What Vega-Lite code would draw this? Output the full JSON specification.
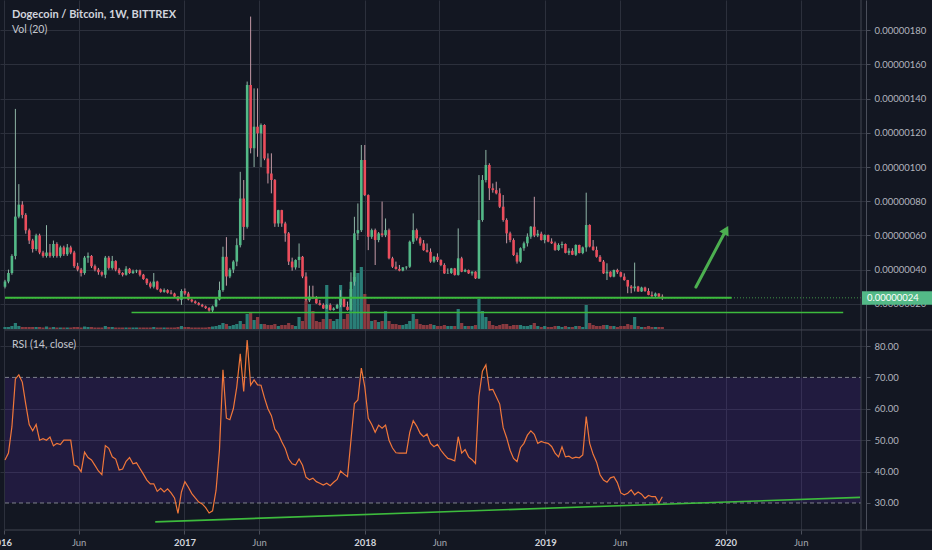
{
"$schema":"https://vega.github.io/schema/vega-lite/v6.json",
"width":866,"height":530,
"autosize":{"type":"none"},
"padding":{"left":0,"top":0,"right":66,"bottom":20},
"background":"#131722",
"config":{"view":{"stroke":null},"font":"Lato"},
"datasets":{"candles":[
{"d":"2016-01-04","o":30,"h":34,"l":29,"c":33,"vol":2,"r":43.7},
{"d":"2016-01-11","o":33,"h":40,"l":32,"c":38,"vol":2,"r":45.9},
{"d":"2016-01-18","o":38,"h":49,"l":37,"c":48,"vol":3,"r":54.3},
{"d":"2016-01-25","o":48,"h":134,"l":46,"c":71,"vol":6,"r":69.5},
{"d":"2016-02-01","o":71,"h":90,"l":70,"c":78,"vol":3,"r":70.8},
{"d":"2016-02-08","o":78,"h":80,"l":70,"c":72,"vol":2,"r":68.5},
{"d":"2016-02-15","o":72,"h":73,"l":61,"c":63,"vol":2,"r":61.5},
{"d":"2016-02-22","o":63,"h":64,"l":55,"c":57,"vol":2,"r":55},
{"d":"2016-02-29","o":57,"h":58,"l":50,"c":52,"vol":2,"r":53},
{"d":"2016-03-07","o":52,"h":61,"l":51,"c":60,"vol":2,"r":55},
{"d":"2016-03-14","o":60,"h":61,"l":49,"c":50,"vol":2,"r":50},
{"d":"2016-03-21","o":50,"h":51,"l":47,"c":48,"vol":1.5,"r":50.5},
{"d":"2016-03-28","o":48,"h":66,"l":47,"c":50,"vol":2.5,"r":50},
{"d":"2016-04-04","o":50,"h":55,"l":47,"c":48,"vol":1.5,"r":51},
{"d":"2016-04-11","o":48,"h":57,"l":47,"c":55,"vol":2,"r":48.2},
{"d":"2016-04-18","o":55,"h":56,"l":47,"c":48,"vol":1.5,"r":49},
{"d":"2016-04-25","o":48,"h":54,"l":47,"c":53,"vol":1.5,"r":48.6},
{"d":"2016-05-02","o":53,"h":54,"l":48,"c":49,"vol":1.5,"r":50},
{"d":"2016-05-09","o":49,"h":55,"l":48,"c":53,"vol":1.5,"r":50},
{"d":"2016-05-16","o":53,"h":54,"l":49,"c":50,"vol":1.5,"r":50},
{"d":"2016-05-23","o":50,"h":51,"l":41,"c":42,"vol":2,"r":42.1},
{"d":"2016-05-30","o":42,"h":44,"l":39,"c":40,"vol":2,"r":41.6},
{"d":"2016-06-06","o":40,"h":41,"l":36,"c":38,"vol":1.5,"r":40},
{"d":"2016-06-13","o":38,"h":48,"l":37,"c":47,"vol":2.5,"r":46.2},
{"d":"2016-06-20","o":47,"h":50,"l":44,"c":48,"vol":2,"r":44.5},
{"d":"2016-06-27","o":48,"h":48.5,"l":41,"c":42,"vol":2,"r":43.7},
{"d":"2016-07-04","o":42,"h":43,"l":39,"c":40,"vol":1.5,"r":42},
{"d":"2016-07-11","o":40,"h":41,"l":37,"c":38.5,"vol":1.5,"r":40.2},
{"d":"2016-07-18","o":38.5,"h":39,"l":36,"c":37,"vol":1.5,"r":39},
{"d":"2016-07-25","o":37,"h":48,"l":35,"c":47,"vol":3,"r":48.3},
{"d":"2016-08-01","o":47,"h":48,"l":40,"c":41,"vol":2,"r":47.4},
{"d":"2016-08-08","o":41,"h":48,"l":40,"c":45,"vol":2,"r":44.7},
{"d":"2016-08-15","o":45,"h":45.5,"l":39,"c":40,"vol":1.5,"r":44},
{"d":"2016-08-22","o":40,"h":41,"l":37,"c":38,"vol":1.5,"r":40.5},
{"d":"2016-08-29","o":38,"h":38.5,"l":36,"c":37,"vol":1.5,"r":40.8},
{"d":"2016-09-05","o":37,"h":42,"l":36.5,"c":40.5,"vol":1.5,"r":43.3},
{"d":"2016-09-12","o":40.5,"h":41,"l":37.5,"c":38,"vol":1.5,"r":44.5},
{"d":"2016-09-19","o":38,"h":40,"l":37.5,"c":39,"vol":1.5,"r":42.5},
{"d":"2016-09-26","o":39,"h":40,"l":38,"c":39.5,"vol":1.5,"r":42.8},
{"d":"2016-10-03","o":39.5,"h":40,"l":36,"c":37,"vol":1.5,"r":41},
{"d":"2016-10-10","o":37,"h":37.5,"l":34,"c":34.5,"vol":1.5,"r":39.2},
{"d":"2016-10-17","o":34.5,"h":35,"l":31,"c":32,"vol":1.5,"r":37.3},
{"d":"2016-10-24","o":32,"h":33,"l":29,"c":30,"vol":1.5,"r":36.1},
{"d":"2016-10-31","o":30,"h":38,"l":29,"c":33,"vol":2,"r":36.1},
{"d":"2016-11-07","o":33,"h":33.5,"l":28,"c":28.5,"vol":1.5,"r":33.7},
{"d":"2016-11-14","o":28.5,"h":29,"l":26.5,"c":27,"vol":1.5,"r":34.7},
{"d":"2016-11-21","o":27,"h":29,"l":26.5,"c":28,"vol":1.5,"r":33.5},
{"d":"2016-11-28","o":28,"h":28.5,"l":26,"c":26.5,"vol":1.5,"r":34.5},
{"d":"2016-12-05","o":26.5,"h":28,"l":25.5,"c":26,"vol":1.5,"r":33.2},
{"d":"2016-12-12","o":26,"h":26.5,"l":23.5,"c":24.2,"vol":1.5,"r":31.6},
{"d":"2016-12-19","o":24.2,"h":24.5,"l":21.5,"c":22.3,"vol":2,"r":26.7},
{"d":"2016-12-26","o":22.3,"h":28.5,"l":19.4,"c":27.5,"vol":3,"r":33.5},
{"d":"2017-01-02","o":27.5,"h":29,"l":25,"c":26,"vol":2,"r":36.8},
{"d":"2017-01-09","o":26,"h":27,"l":22,"c":22.5,"vol":2,"r":35},
{"d":"2017-01-16","o":22.5,"h":23,"l":20.8,"c":21.4,"vol":1.5,"r":33},
{"d":"2017-01-23","o":21.4,"h":22,"l":20,"c":20.4,"vol":1.5,"r":31.6},
{"d":"2017-01-30","o":20.4,"h":21,"l":19,"c":19.4,"vol":1.5,"r":30.3},
{"d":"2017-02-06","o":19.4,"h":20,"l":18,"c":18.5,"vol":1.5,"r":29.7},
{"d":"2017-02-13","o":18.5,"h":19,"l":17,"c":17.5,"vol":1.5,"r":28.5},
{"d":"2017-02-20","o":17.5,"h":18,"l":15.4,"c":16.1,"vol":2,"r":26.8},
{"d":"2017-02-27","o":16.1,"h":19,"l":14.8,"c":18.5,"vol":2.5,"r":27.5},
{"d":"2017-03-06","o":18.5,"h":24,"l":18,"c":22.5,"vol":3,"r":34},
{"d":"2017-03-13","o":22.5,"h":33,"l":22,"c":28,"vol":4,"r":47},
{"d":"2017-03-20","o":28,"h":53.4,"l":27,"c":47.5,"vol":6,"r":72.4},
{"d":"2017-03-27","o":47.5,"h":59,"l":30.6,"c":36,"vol":5,"r":57},
{"d":"2017-04-03","o":36,"h":41,"l":35,"c":40,"vol":3,"r":56.5},
{"d":"2017-04-10","o":40,"h":45.5,"l":38,"c":44.7,"vol":4,"r":60},
{"d":"2017-04-17","o":44.7,"h":58.3,"l":42,"c":54.3,"vol":5,"r":67},
{"d":"2017-04-24","o":54.3,"h":97.2,"l":53,"c":81.6,"vol":8,"r":77.5},
{"d":"2017-05-01","o":81.6,"h":92.4,"l":57.3,"c":65,"vol":5,"r":65.5},
{"d":"2017-05-08","o":65,"h":150,"l":64,"c":148,"vol":15,"r":81.9},
{"d":"2017-05-15","o":148,"h":188,"l":108,"c":111,"vol":16,"r":67.5},
{"d":"2017-05-22","o":111,"h":146,"l":100,"c":123.6,"vol":9,"r":69.2},
{"d":"2017-05-29","o":123.6,"h":146,"l":106,"c":119.7,"vol":12,"r":67.6},
{"d":"2017-06-05","o":119.7,"h":125.5,"l":100,"c":124.6,"vol":5,"r":67.5},
{"d":"2017-06-12","o":124.6,"h":125,"l":104,"c":105,"vol":5,"r":63.5},
{"d":"2017-06-19","o":105,"h":108,"l":90.4,"c":96.2,"vol":4,"r":60},
{"d":"2017-06-26","o":96.2,"h":108,"l":84.6,"c":92.4,"vol":4,"r":57.8},
{"d":"2017-07-03","o":92.4,"h":93,"l":65,"c":67,"vol":5,"r":53.5},
{"d":"2017-07-10","o":67,"h":75,"l":65,"c":74.8,"vol":3,"r":52},
{"d":"2017-07-17","o":74.8,"h":75,"l":65,"c":67,"vol":4,"r":49.5},
{"d":"2017-07-24","o":67,"h":68,"l":56.3,"c":61.2,"vol":4,"r":47.4},
{"d":"2017-07-31","o":61.2,"h":62,"l":42.7,"c":44.7,"vol":6,"r":44},
{"d":"2017-08-07","o":44.7,"h":47,"l":39.4,"c":41.3,"vol":4,"r":42.5},
{"d":"2017-08-14","o":41.3,"h":46,"l":40,"c":45.6,"vol":3,"r":42.1},
{"d":"2017-08-21","o":45.6,"h":55.3,"l":41,"c":47.5,"vol":12,"r":44},
{"d":"2017-08-28","o":47.5,"h":48,"l":35,"c":36,"vol":8,"r":42},
{"d":"2017-09-04","o":36,"h":38.4,"l":21.5,"c":22,"vol":28,"r":38.2},
{"d":"2017-09-11","o":22,"h":30.6,"l":21,"c":24.2,"vol":25,"r":37.4},
{"d":"2017-09-18","o":24.2,"h":30.6,"l":23,"c":23.2,"vol":18,"r":37.9},
{"d":"2017-09-25","o":23.2,"h":24.5,"l":20,"c":20.3,"vol":8,"r":36.8},
{"d":"2017-10-02","o":20.3,"h":22.2,"l":19,"c":19.3,"vol":7,"r":36.3},
{"d":"2017-10-09","o":19.3,"h":20.3,"l":17,"c":17.3,"vol":10,"r":35.7},
{"d":"2017-10-16","o":17.3,"h":19.8,"l":17,"c":19.3,"vol":44,"r":36.3},
{"d":"2017-10-23","o":19.3,"h":20.3,"l":16,"c":16.4,"vol":10,"r":35.5},
{"d":"2017-10-30","o":16.4,"h":18,"l":16,"c":17.3,"vol":8,"r":36.6},
{"d":"2017-11-06","o":17.3,"h":20,"l":17,"c":19.3,"vol":10,"r":37.5},
{"d":"2017-11-13","o":19.3,"h":28,"l":18,"c":23.2,"vol":44,"r":40.2},
{"d":"2017-11-20","o":23.2,"h":23.5,"l":18,"c":18.3,"vol":10,"r":39.2},
{"d":"2017-11-27","o":18.3,"h":21.3,"l":16,"c":16.4,"vol":15,"r":38.4},
{"d":"2017-12-04","o":16.4,"h":38.4,"l":16,"c":32.9,"vol":40,"r":50},
{"d":"2017-12-11","o":32.9,"h":70.9,"l":30.6,"c":61.2,"vol":52,"r":61.7},
{"d":"2017-12-18","o":61.2,"h":78.7,"l":57.3,"c":63.1,"vol":56,"r":62.8},
{"d":"2017-12-25","o":63.1,"h":112.9,"l":62,"c":104.1,"vol":62,"r":73},
{"d":"2018-01-01","o":104.1,"h":112.9,"l":83,"c":83.6,"vol":35,"r":67},
{"d":"2018-01-08","o":83.6,"h":84,"l":51.4,"c":59.2,"vol":25,"r":57},
{"d":"2018-01-15","o":59.2,"h":64,"l":58,"c":63.1,"vol":8,"r":55},
{"d":"2018-01-22","o":63.1,"h":64,"l":42.7,"c":57.3,"vol":9,"r":52.5},
{"d":"2018-01-29","o":57.3,"h":62,"l":56,"c":61.2,"vol":7,"r":54.8},
{"d":"2018-02-05","o":61.2,"h":79.8,"l":59,"c":60.2,"vol":8,"r":53.8},
{"d":"2018-02-12","o":60.2,"h":69.9,"l":59,"c":63.1,"vol":18,"r":54.8},
{"d":"2018-02-19","o":63.1,"h":64,"l":46,"c":46.6,"vol":8,"r":50},
{"d":"2018-02-26","o":46.6,"h":47.5,"l":41,"c":41.7,"vol":5,"r":47.5},
{"d":"2018-03-05","o":41.7,"h":44.7,"l":40,"c":40.4,"vol":5,"r":46},
{"d":"2018-03-12","o":40.4,"h":42.7,"l":39,"c":39.4,"vol":4,"r":45.9},
{"d":"2018-03-19","o":39.4,"h":41.5,"l":39,"c":41.3,"vol":4,"r":45.9},
{"d":"2018-03-26","o":41.3,"h":42,"l":40,"c":41.7,"vol":5,"r":45.9},
{"d":"2018-04-02","o":41.7,"h":57,"l":41,"c":56.3,"vol":8,"r":52.5},
{"d":"2018-04-09","o":56.3,"h":72.9,"l":55,"c":63.1,"vol":15,"r":56.2},
{"d":"2018-04-16","o":63.1,"h":64,"l":57,"c":58.3,"vol":10,"r":54.5},
{"d":"2018-04-23","o":58.3,"h":59.2,"l":54,"c":55.3,"vol":5,"r":52.2},
{"d":"2018-04-30","o":55.3,"h":57.3,"l":51,"c":51.4,"vol":4,"r":51.1},
{"d":"2018-05-07","o":51.4,"h":55.3,"l":50,"c":50.4,"vol":4,"r":52},
{"d":"2018-05-14","o":50.4,"h":52.4,"l":44,"c":44.7,"vol":5,"r":49},
{"d":"2018-05-21","o":44.7,"h":48,"l":44,"c":47.5,"vol":4,"r":47.9},
{"d":"2018-05-28","o":47.5,"h":49.5,"l":44.5,"c":45.6,"vol":3,"r":48.7},
{"d":"2018-06-04","o":45.6,"h":46,"l":42,"c":42.7,"vol":3,"r":46.8},
{"d":"2018-06-11","o":42.7,"h":43.7,"l":37.5,"c":37.8,"vol":4,"r":45.4},
{"d":"2018-06-18","o":37.8,"h":40.7,"l":37.5,"c":38,"vol":3,"r":44.2},
{"d":"2018-06-25","o":38,"h":41,"l":37.5,"c":40.7,"vol":3,"r":43.9},
{"d":"2018-07-02","o":40.7,"h":41,"l":36.5,"c":36.9,"vol":3,"r":43.4},
{"d":"2018-07-09","o":36.9,"h":64.1,"l":36.5,"c":46.6,"vol":20,"r":51.1},
{"d":"2018-07-16","o":46.6,"h":47.5,"l":38.5,"c":38.8,"vol":6,"r":45.9},
{"d":"2018-07-23","o":38.8,"h":40.5,"l":38.5,"c":39.8,"vol":3,"r":47},
{"d":"2018-07-30","o":39.8,"h":40,"l":37.5,"c":37.8,"vol":3,"r":44.7},
{"d":"2018-08-06","o":37.8,"h":39,"l":36.5,"c":38.8,"vol":3,"r":43.8},
{"d":"2018-08-13","o":38.8,"h":39,"l":34.5,"c":34.9,"vol":4,"r":42.6},
{"d":"2018-08-20","o":34.9,"h":95.3,"l":34.5,"c":69,"vol":30,"r":64},
{"d":"2018-08-27","o":69,"h":95.3,"l":68,"c":92.4,"vol":18,"r":72},
{"d":"2018-09-03","o":92.4,"h":110,"l":91,"c":101.2,"vol":12,"r":74},
{"d":"2018-09-10","o":101.2,"h":102.2,"l":80.7,"c":87.6,"vol":8,"r":66},
{"d":"2018-09-17","o":87.6,"h":90.4,"l":85,"c":86.5,"vol":4,"r":66.2},
{"d":"2018-09-24","o":86.5,"h":91.4,"l":84,"c":84.6,"vol":3,"r":63.8},
{"d":"2018-10-01","o":84.6,"h":87.6,"l":76,"c":76.8,"vol":4,"r":61.5},
{"d":"2018-10-08","o":76.8,"h":83.6,"l":68,"c":69,"vol":5,"r":54},
{"d":"2018-10-15","o":69,"h":70,"l":55.4,"c":61.2,"vol":5,"r":50.8},
{"d":"2018-10-22","o":61.2,"h":62.2,"l":56,"c":57.3,"vol":3,"r":46.8},
{"d":"2018-10-29","o":57.3,"h":58.3,"l":48,"c":48.5,"vol":4,"r":44.2},
{"d":"2018-11-05","o":48.5,"h":50,"l":43.5,"c":44.7,"vol":4,"r":43.2},
{"d":"2018-11-12","o":44.7,"h":53,"l":44,"c":52.5,"vol":4,"r":47.6},
{"d":"2018-11-19","o":52.5,"h":56.4,"l":51,"c":55.4,"vol":3,"r":49},
{"d":"2018-11-26","o":55.4,"h":61.2,"l":53.5,"c":59.3,"vol":3,"r":51.6},
{"d":"2018-12-03","o":59.3,"h":65.5,"l":58,"c":65.1,"vol":4,"r":53},
{"d":"2018-12-10","o":65.1,"h":82.6,"l":59,"c":60,"vol":6,"r":51.9},
{"d":"2018-12-17","o":60,"h":63.2,"l":59,"c":61,"vol":3,"r":49},
{"d":"2018-12-24","o":61,"h":62.2,"l":57,"c":57.3,"vol":2,"r":49.6},
{"d":"2018-12-31","o":57.3,"h":60.6,"l":55.4,"c":60.2,"vol":3,"r":49.2},
{"d":"2019-01-07","o":60.2,"h":60.5,"l":56,"c":56.4,"vol":2,"r":49},
{"d":"2019-01-14","o":56.4,"h":58.3,"l":55,"c":55.4,"vol":2,"r":48},
{"d":"2019-01-21","o":55.4,"h":56.4,"l":51,"c":51.5,"vol":3,"r":45.9},
{"d":"2019-01-28","o":51.5,"h":55.4,"l":51,"c":54.4,"vol":3,"r":44.7},
{"d":"2019-02-04","o":54.4,"h":56.4,"l":52.5,"c":55,"vol":2,"r":47.9},
{"d":"2019-02-11","o":55,"h":55.3,"l":49.5,"c":49.8,"vol":3,"r":44.7},
{"d":"2019-02-18","o":49.8,"h":52.5,"l":48.5,"c":51,"vol":2,"r":44.9},
{"d":"2019-02-25","o":51,"h":52.5,"l":48.5,"c":48.7,"vol":2,"r":44.2},
{"d":"2019-03-04","o":48.7,"h":54.8,"l":48,"c":54.4,"vol":3,"r":44.6},
{"d":"2019-03-11","o":54.4,"h":54.6,"l":49.5,"c":49.7,"vol":3,"r":44.4},
{"d":"2019-03-18","o":49.7,"h":53.5,"l":49,"c":53,"vol":2,"r":45.3},
{"d":"2019-03-25","o":53,"h":85,"l":50.5,"c":66.1,"vol":24,"r":57.5},
{"d":"2019-04-01","o":66.1,"h":66.5,"l":53,"c":53.5,"vol":6,"r":49},
{"d":"2019-04-08","o":53.5,"h":57.3,"l":51,"c":51.5,"vol":4,"r":45.5},
{"d":"2019-04-15","o":51.5,"h":53.5,"l":47,"c":47.5,"vol":3,"r":43},
{"d":"2019-04-22","o":47.5,"h":48.5,"l":44.5,"c":44.7,"vol":3,"r":39},
{"d":"2019-04-29","o":44.7,"h":45.6,"l":37.5,"c":37.8,"vol":4,"r":37.3},
{"d":"2019-05-06","o":37.8,"h":43.7,"l":33.9,"c":38.8,"vol":4,"r":36.6},
{"d":"2019-05-13","o":38.8,"h":39,"l":35.5,"c":35.9,"vol":3,"r":38},
{"d":"2019-05-20","o":35.9,"h":40,"l":35.5,"c":39.8,"vol":3,"r":38.4},
{"d":"2019-05-27","o":39.8,"h":40.5,"l":37.5,"c":38.5,"vol":2,"r":36.5},
{"d":"2019-06-03","o":38.5,"h":38.8,"l":35.5,"c":35.9,"vol":3,"r":33.2},
{"d":"2019-06-10","o":35.9,"h":37.8,"l":33.5,"c":33.9,"vol":3,"r":32.6},
{"d":"2019-06-17","o":33.9,"h":34,"l":26.2,"c":30.1,"vol":5,"r":33.1},
{"d":"2019-06-24","o":30.1,"h":31,"l":26.2,"c":29.1,"vol":4,"r":34.2},
{"d":"2019-07-01","o":29.1,"h":44.1,"l":27.2,"c":30.1,"vol":12,"r":32.6},
{"d":"2019-07-08","o":30.1,"h":30.5,"l":27,"c":27.2,"vol":3,"r":33.5},
{"d":"2019-07-15","o":27.2,"h":30,"l":27,"c":29.5,"vol":2,"r":32.8},
{"d":"2019-07-22","o":29.5,"h":30,"l":27,"c":27.5,"vol":2,"r":31.5},
{"d":"2019-07-29","o":27.5,"h":29.1,"l":25,"c":25.2,"vol":3,"r":32.4},
{"d":"2019-08-05","o":25.2,"h":27.2,"l":24,"c":24.5,"vol":2,"r":32},
{"d":"2019-08-12","o":24.5,"h":26.6,"l":24,"c":26,"vol":2,"r":32},
{"d":"2019-08-19","o":26,"h":26.2,"l":24,"c":24.2,"vol":2,"r":30},
{"d":"2019-08-26","o":24.2,"h":25.5,"l":22.3,"c":23.5,"vol":2,"r":32}
]},
"encoding":{"x":{"field":"d","type":"temporal","title":null,
 "scale":{"domain":[{"year":2016,"month":1,"date":4},{"year":2020,"month":10,"date":1}]},
 "axis":{"values":[{"year":2016,"month":1,"date":1},{"year":2016,"month":6,"date":1},{"year":2017,"month":1,"date":1},{"year":2017,"month":6,"date":1},{"year":2018,"month":1,"date":1},{"year":2018,"month":6,"date":1},{"year":2019,"month":1,"date":1},{"year":2019,"month":6,"date":1},{"year":2020,"month":1,"date":1},{"year":2020,"month":6,"date":1}],
  "labelExpr":"month(datum.value) === 0 ? timeFormat(datum.value, '%Y') : 'Jun'",
  "title":null,"grid":true,"gridColor":"#2c303c","domain":false,"ticks":true,"tickSize":4,"tickColor":"#4a4e5a",
  "labelPadding":3,"labelFontSize":9.5,"labelFont":"Lato","labelFlush":false,"labelOverlap":false,"labelBound":false,
  "labelOffset":{"condition":{"test":"year(datum.value) === 2016 && month(datum.value) === 0","value":-3},"value":0},
  "labelColor":{"condition":{"test":"month(datum.value) === 0","value":"#d1d4dc"},"value":"#a3a6af"},
  "labelFontWeight":{"condition":{"test":"month(datum.value) === 0","value":"bold"},"value":"normal"}}}},
"layer":[
  {"data":{"name":"candles"},"mark":{"type":"bar","width":3.2},
   "encoding":{"y":{"field":"vol","type":"quantitative","scale":{"domain":[-201,329],"nice":false,"zero":false},"axis":null},
    "y2":{"datum":0},
    "color":{"condition":{"test":"datum.c >= datum.o","value":"#2a7e77"},"value":"#8a3a40"}}},
  {"data":{"name":"candles"},"mark":{"type":"rule","strokeWidth":1},
   "encoding":{"y":{"field":"l","type":"quantitative","scale":{"domain":[-112.3,197.7],"nice":false,"zero":false},
     "axis":{"orient":"right","values":[20,40,60,80,100,120,140,160,180],"labelExpr":"format(datum.value / 100000000, '.8f')","title":null,"grid":true,"gridColor":"#2c303c","domain":true,"domainColor":"#4a4e5a","ticks":true,"tickColor":"#4a4e5a","tickSize":4,"labelPadding":4,"labelColor":"#b2b5be","labelFontSize":9.5,"labelFont":"Lato"}},
    "y2":{"field":"h"},
    "color":{"condition":{"test":"datum.c >= datum.o","value":"#8fb5a6"},"value":"#c49aa6"}}},
  {"data":{"name":"candles"},"mark":{"type":"bar","width":2.6},
   "encoding":{"y":{"field":"o","type":"quantitative","scale":{"domain":[-112.3,197.7],"nice":false,"zero":false},"axis":null},
    "y2":{"field":"c"},
    "color":{"condition":{"test":"datum.c >= datum.o","value":"#53b987"},"value":"#eb4d5c"}}},
  {"data":{"values":[{"d":"2016-01-04","d2":"2020-10-01","v":23.5}]},
   "mark":{"type":"rule","strokeWidth":1,"strokeDash":[1,2],"color":"#4caf50","opacity":0.8},
   "encoding":{"x2":{"field":"d2"},"y":{"field":"v","type":"quantitative","scale":{"domain":[-112.3,197.7],"nice":false,"zero":false},"axis":null}}},
  {"data":{"values":[{"d":"2016-01-04","d2":"2020-01-13","v":23.5,"w":2},{"d":"2016-09-16","d2":"2020-08-26","v":14.9,"w":1.5}]},
   "mark":{"type":"rule","color":"#3dbb3d"},
   "encoding":{"x2":{"field":"d2"},"y":{"field":"v","type":"quantitative","scale":{"domain":[-112.3,197.7],"nice":false,"zero":false},"axis":null},
    "strokeWidth":{"field":"w","type":"quantitative","scale":null}}},
  {"data":{"values":[{"d":"2019-11-02","v":29.8},{"d":"2020-01-02","v":63.2}]},
   "mark":{"type":"line","strokeWidth":3,"color":"#4caf50","strokeCap":"round"},
   "encoding":{"y":{"field":"v","type":"quantitative","scale":{"domain":[-112.3,197.7],"nice":false,"zero":false},"axis":null}}},
  {"data":{"values":[{"d":"2020-01-02","v":63.2}]},
   "mark":{"type":"point","shape":"triangle-up","angle":28,"size":110,"filled":true,"color":"#4caf50","opacity":1},
   "encoding":{"y":{"field":"v","type":"quantitative","scale":{"domain":[-112.3,197.7],"nice":false,"zero":false},"axis":null}}},
  {"data":{"values":[{"d":"2016-01-04","d2":"2021-03-01","v":4.7}]},
   "mark":{"type":"rule","strokeWidth":1,"color":"#434651"},
   "encoding":{"x2":{"field":"d2"},"y":{"field":"v","type":"quantitative","scale":{"domain":[-112.3,197.7],"nice":false,"zero":false},"axis":null}}},
  {"data":{"values":[{"d":"2020-10-03","d2":"2021-03-01","v":19.5,"v2":27.3}]},
   "mark":{"type":"rect","color":"#53b987"},
   "encoding":{"x2":{"field":"d2"},"y":{"field":"v","type":"quantitative","scale":{"domain":[-112.3,197.7],"nice":false,"zero":false},"axis":null},"y2":{"field":"v2"}}},
  {"data":{"values":[{"d":"2020-10-03","v":23.4,"t":"0.00000024"}]},
   "mark":{"type":"text","align":"left","baseline":"middle","dx":5,"fontSize":9.5,"color":"#ffffff","font":"Lato"},
   "encoding":{"y":{"field":"v","type":"quantitative","scale":{"domain":[-112.3,197.7],"nice":false,"zero":false},"axis":null},"text":{"field":"t"}}},
  {"data":{"values":[{"d":"2016-01-04","v":189.2,"t":"Dogecoin / Bitcoin, 1W, BITTREX"}]},
   "mark":{"type":"text","align":"left","baseline":"middle","dx":7,"fontSize":11,"fontWeight":"bold","color":"#d1d4dc","font":"Lato"},
   "encoding":{"y":{"field":"v","type":"quantitative","scale":{"domain":[-112.3,197.7],"nice":false,"zero":false},"axis":null},"text":{"field":"t"}}},
  {"data":{"values":[{"d":"2016-01-04","v":179.9,"t":"Vol (20)"}]},
   "mark":{"type":"text","align":"left","baseline":"middle","dx":7,"fontSize":10.5,"color":"#c3c6ce","font":"Lato"},
   "encoding":{"y":{"field":"v","type":"quantitative","scale":{"domain":[-112.3,197.7],"nice":false,"zero":false},"axis":null},"text":{"field":"t"}}},
  {"data":{"values":[{"d":"2016-01-04","d2":"2020-10-01","lo":30,"hi":70}]},
   "mark":{"type":"rect","color":"#5b2fb5","opacity":0.2},
   "encoding":{"x2":{"field":"d2"},
    "y":{"field":"lo","type":"quantitative","scale":{"domain":[21.4,190.2],"nice":false,"zero":false},
     "axis":{"orient":"right","values":[30,40,50,60,70,80],"format":".2f","title":null,"grid":true,"gridColor":"#2c303c",
      "gridOpacity":{"condition":{"test":"datum.value === 30 || datum.value === 70","value":0},"value":1},
      "domain":false,"ticks":true,"tickColor":"#4a4e5a","tickSize":4,"labelPadding":4,"labelColor":"#b2b5be","labelFontSize":9.5,"labelFont":"Lato"}},
    "y2":{"field":"hi"}}},
  {"data":{"values":[{"d":"2016-01-04","d2":"2020-10-01","lv":30},{"d":"2016-01-04","d2":"2020-10-01","lv":70}]},
   "mark":{"type":"rule","strokeWidth":1,"strokeDash":[4,3],"color":"#7f828c"},
   "encoding":{"x2":{"field":"d2"},"y":{"field":"lv","type":"quantitative","scale":{"domain":[21.4,190.2],"nice":false,"zero":false},"axis":null}}},
  {"data":{"name":"candles"},
   "mark":{"type":"line","strokeWidth":1.2,"color":"#f0773a"},
   "encoding":{"y":{"field":"r","type":"quantitative","scale":{"domain":[21.4,190.2],"nice":false,"zero":false},"axis":null}}},
  {"data":{"values":[{"d":"2016-11-03","d2":"2020-09-29","a":24.0,"b":31.8}]},
   "mark":{"type":"rule","strokeWidth":1.6,"color":"#3dbb3d"},
   "encoding":{"x2":{"field":"d2"},"y":{"field":"a","type":"quantitative","scale":{"domain":[21.4,190.2],"nice":false,"zero":false},"axis":null},"y2":{"field":"b"}}},
  {"data":{"values":[{"d":"2016-01-04","d2":"2021-03-01","lv":21.4}]},
   "mark":{"type":"rule","strokeWidth":1,"color":"#434651"},
   "encoding":{"x2":{"field":"d2"},"y":{"field":"lv","type":"quantitative","scale":{"domain":[21.4,190.2],"nice":false,"zero":false},"axis":null}}},
  {"data":{"values":[{"d":"2020-10-01","a":14,"b":190.2}]},
   "mark":{"type":"rule","strokeWidth":1,"color":"#434651"},
   "encoding":{"y":{"field":"a","type":"quantitative","scale":{"domain":[21.4,190.2],"nice":false,"zero":false},"axis":null},"y2":{"field":"b"}}},
  {"data":{"values":[{"d":"2016-01-04","lv":80.3,"t":"RSI (14, close)"}]},
   "mark":{"type":"text","align":"left","baseline":"middle","dx":7,"fontSize":10.5,"color":"#c3c6ce","font":"Lato"},
   "encoding":{"y":{"field":"lv","type":"quantitative","scale":{"domain":[21.4,190.2],"nice":false,"zero":false},"axis":null},"text":{"field":"t"}}}
],
"resolve":{"scale":{"y":"independent"},"axis":{"y":"independent"}}
}
